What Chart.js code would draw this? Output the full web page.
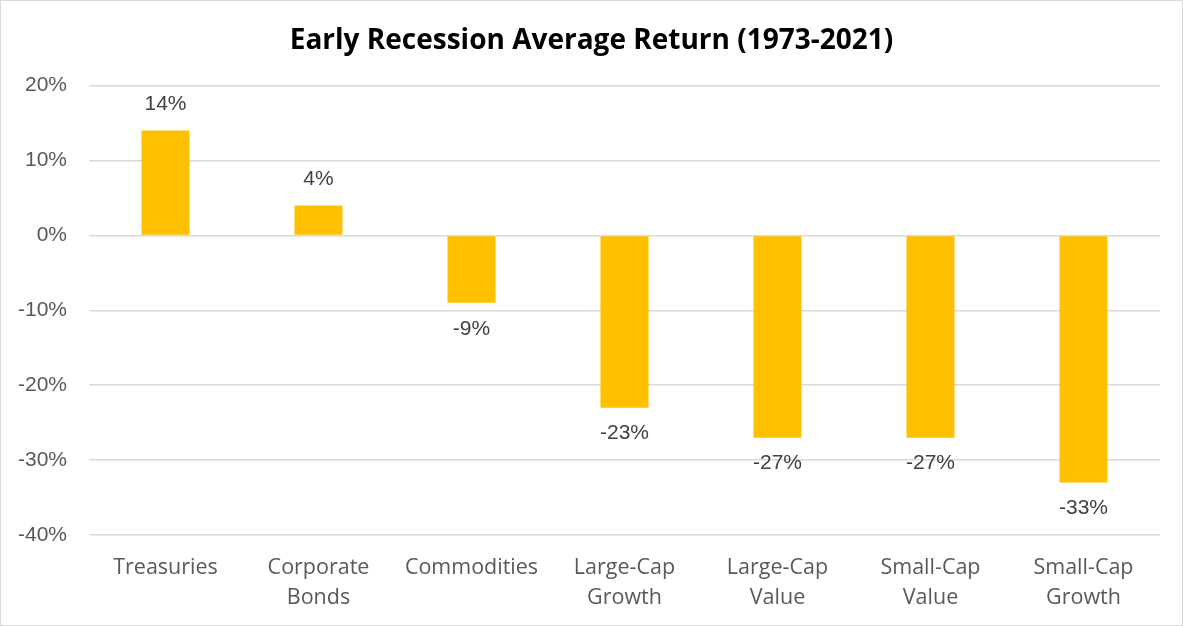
<!DOCTYPE html>
<html>
<head>
<meta charset="utf-8">
<script src="https://cdn.jsdelivr.net/npm/chart.js@4.4.1/dist/chart.umd.min.js"></script>
<style>
  html, body { margin: 0; padding: 0; background: #fff; }
  #wrap { width: 1183px; height: 626px; box-sizing: border-box; border: 1px solid #d9d9d9; }
</style>
</head>
<body>
<div id="wrap"><canvas id="retChart" width="1181" height="624"></canvas></div>
<script>
// --- Dados ---
const categories = ['Treasuries', ['Corporate', 'Bonds'], 'Commodities', ['Large-Cap', 'Growth'],
    ['Large-Cap', 'Value'], ['Small-Cap', 'Value'], ['Small-Cap', 'Growth']];
const avgReturn = [14, 4, -9, -23, -27, -27, -33];
const yTicks = [20, 10, 0, -10, -20, -30, -40];

const textGray = '#595959';
const numFont = '"Liberation Sans", Arial, sans-serif';
const catFont = '"Open Sans", "Noto Sans", sans-serif';

// --- Rótulos de dados (acima / abaixo das barras) ---
const barLabels = {
    id: 'barLabels',
    afterDatasetsDraw(chart) {
        const c = chart.ctx;
        const meta = chart.getDatasetMeta(0);
        c.save();
        c.font = '21px ' + numFont;
        c.fillStyle = '#404040';
        c.textAlign = 'center';
        c.textBaseline = 'middle';
        meta.data.forEach((bar, i) => {
            const v = avgReturn[i];
            const y = v >= 0 ? bar.y - 26 : bar.y + 26;
            c.fillText(v + '%', bar.x, y);
        });
        c.restore();
    }
};

const ctx = document.getElementById('retChart').getContext('2d');
new Chart(ctx, {
    type: 'bar',
    data: {
        labels: categories,
        datasets: [{
            data: avgReturn,
            backgroundColor: '#FFC000',
            borderWidth: 0,
            categoryPercentage: 1,
            barPercentage: 0.314
        }]
    },
    options: {
        responsive: false,
        animation: false,
        layout: { padding: { left: 0, right: 0, top: 0, bottom: 8 } },
        plugins: {
            legend: { display: false },
            tooltip: { enabled: false },
            title: {
                display: true,
                text: 'Early Recession Average Return (1973-2021)',
                color: '#000',
                font: { family: catFont, size: 28, weight: 'bold' },
                padding: { top: 23, bottom: 28 }
            }
        },
        scales: {
            x: {
                afterFit(scale) { scale.height = 82; },
                grid: { display: false },
                border: { display: false },
                ticks: {
                    color: textGray,
                    font: { family: catFont, size: 21.5, lineHeight: 1.4 },
                    padding: 10,
                    maxRotation: 0,
                    autoSkip: false
                }
            },
            y: {
                min: -40, max: 20,
                afterFit(scale) { scale.width = 88; },
                afterBuildTicks(scale) { scale.ticks = yTicks.map(v => ({ value: v })); },
                grid: { color: '#d9d9d9', lineWidth: 1.5, drawTicks: false },
                border: { display: false },
                ticks: {
                    color: textGray,
                    font: { family: numFont, size: 21 },
                    padding: 22,
                    callback: v => v + '%'
                }
            },
            // eixo vazio só para reservar a margem direita
            yRight: {
                position: 'right',
                min: -40, max: 20,
                afterFit(scale) { scale.width = 22; },
                grid: { display: false, drawTicks: false },
                border: { display: false },
                ticks: { display: false }
            }
        }
    },
    plugins: [barLabels]
});
</script>
</body>
</html>
